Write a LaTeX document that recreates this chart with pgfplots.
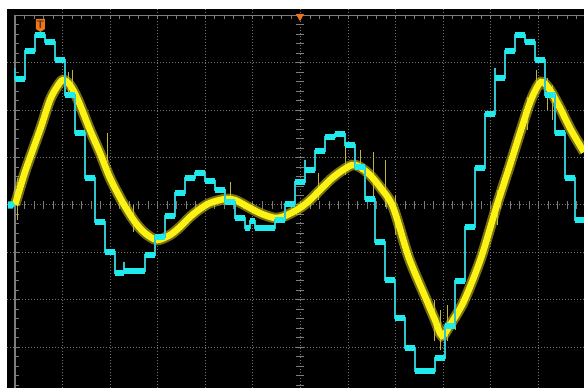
\documentclass[border=0pt]{standalone}
\usepackage{pgfplots}
\pgfplotsset{compat=1.18}
\usepackage{pgfplotstable}

\definecolor{scopeYellow}{RGB}{252,242,20}
\definecolor{scopeYellowDim}{RGB}{215,205,40}
\definecolor{scopeNoise}{RGB}{190,180,60}
\definecolor{scopeCyan}{RGB}{30,235,238}
\definecolor{scopeCyanDim}{RGB}{50,195,205}
\definecolor{scopeGrid}{RGB}{115,115,115}
\definecolor{scopeFrame}{RGB}{125,125,125}
\definecolor{scopeOrange}{RGB}{236,118,30}

% Channel 2: inverter staircase voltage, step start (div) and level (div)
\pgfplotstableread{
x y
0.000 2.89
0.000 2.658
0.210 3.249
0.420 3.586
0.630 3.439
0.840 3.059
1.050 2.321
1.261 1.519
1.471 0.570
1.681 -0.359
1.891 -0.992
2.101 -1.435
2.290 -1.20
2.290 -1.392
2.731 -1.055
2.941 -0.675
3.151 -0.232
3.361 0.253
3.571 0.570
3.782 0.675
3.992 0.506
4.202 0.316
4.412 0.063
4.622 -0.274
4.832 -0.485
4.937 -0.338
5.042 -0.485
5.462 -0.316
5.672 0.021
5.882 0.485
6.092 0.95
6.092 0.738
6.303 1.139
6.513 1.435
6.723 1.498
6.933 1.266
7.143 0.802
7.353 0.127
7.563 -0.781
7.773 -1.582
7.983 -2.384
8.193 -3.017
8.403 -3.502
8.824 -3.228
9.034 -2.553
9.244 -1.603
9.454 -0.464
9.664 0.781
9.874 1.920
10.084 2.89
10.084 2.679
10.294 3.249
10.504 3.586
10.714 3.439
10.924 3.059
11.134 2.321
11.345 1.519
11.555 0.570
11.765 -0.316
11.960 -0.316
}\stairs

% Channel 1: filtered output waveform (div)
\pgfplotstableread{
x y
0.000 0.000
0.210 0.696
0.525 1.582
0.735 2.215
0.882 2.489
1.008 2.637
1.155 2.532
1.324 2.215
1.576 1.582
1.786 1.097
1.996 0.570
2.269 0.042
2.521 -0.359
2.731 -0.591
2.983 -0.738
3.256 -0.633
3.466 -0.464
3.676 -0.253
3.887 -0.084
4.097 0.042
4.412 0.127
4.622 0.105
4.937 -0.063
5.189 -0.190
5.462 -0.274
5.672 -0.232
5.987 -0.063
6.197 0.105
6.408 0.316
6.618 0.527
6.828 0.696
7.080 0.844
7.248 0.802
7.458 0.633
7.668 0.380
7.941 -0.042
8.277 -1.118
8.655 -2.025
8.824 -2.426
8.971 -2.760
9.139 -2.532
9.433 -2.025
9.790 -1.118
10.126 0.000
10.378 0.781
10.630 1.582
10.840 2.215
11.050 2.595
11.239 2.426
11.450 2.046
11.681 1.582
11.954 1.118
}\wave

\begin{document}
\begin{tikzpicture}
\fill[white] (-7pt,0pt) rectangle (577pt,388pt);
\begin{axis}[
  at={(0pt,0pt)}, anchor=south west,
  scale only axis, width=577pt, height=379pt,
  xmin=-0.168, xmax=11.954, ymin=-3.861, ymax=4.135,
  axis background/.style={fill=black},
  axis line style={draw=none},
  xtick={1,...,11}, ytick={-3,...,3},
  xticklabels={}, yticklabels={},
  tick style={draw=none},
  grid=major,
  major grid style={draw=scopeGrid, line width=1pt, dash pattern=on 1pt off 2pt},
  unbounded coords=jump,
]
% screen frame and graticule subdivisions
\draw[scopeFrame, line width=1.3pt] (axis cs:0,-3.861) -- (axis cs:0,4.0) -- (axis cs:11.954,4.0);
\pgfplotsinvokeforeach{-3.8,-3.6,...,3.9}{
  \draw[scopeFrame, line width=1pt] (axis cs:0,#1) -- (axis cs:0.085,#1);
  \draw[scopeFrame, line width=1pt] (axis cs:5.90,#1) -- (axis cs:6.07,#1);
}
\pgfplotsinvokeforeach{0.2,0.4,...,11.9}{
  \draw[scopeFrame, line width=1pt] (axis cs:#1,4.0) -- (axis cs:#1,3.92);
  \draw[scopeFrame, line width=1pt] (axis cs:#1,-0.085) -- (axis cs:#1,0.085);
}

% channel 1: noise band, glitches and trace
\addplot[draw=scopeYellowDim, line width=10.5pt, opacity=0.55, smooth, tension=0.5] table {\wave};
\addplot[draw=scopeNoise, line width=0.9pt] coordinates {
  (0.042,0.570) (0.042,-0.316) (nan,nan)
  (1.113,2.806) (1.113,2.384) (nan,nan)
  (1.197,2.848) (1.197,2.321) (nan,nan)
  (1.933,1.519) (1.933,0.907) (nan,nan)
  (2.479,0.000) (2.479,-0.570) (nan,nan)
  (4.517,0.485) (4.517,0.105) (nan,nan)
  (6.366,0.675) (6.366,0.105) (nan,nan)
  (6.933,1.266) (6.933,0.633) (nan,nan)
  (7.248,1.160) (7.248,0.696) (nan,nan)
  (7.521,1.118) (7.521,0.169) (nan,nan)
  (7.773,0.949) (7.773,-0.042) (nan,nan)
  (7.983,0.211) (7.983,-0.633) (nan,nan)
  (8.803,-2.004) (8.803,-2.869) (nan,nan)
  (8.929,-2.215) (8.929,-3.059) (nan,nan)
  (9.076,-2.110) (9.076,-2.869) (nan,nan)
  (9.244,-1.793) (9.244,-2.637) (nan,nan)
  (10.126,0.316) (10.126,-0.422) (nan,nan)
  (10.756,2.278) (10.756,1.582) (nan,nan)
  (10.945,2.848) (10.945,2.321) (nan,nan)
  (11.176,2.679) (11.176,2.004) (nan,nan)
  (11.282,2.532) (11.282,1.793)
};
\addplot[draw=scopeYellow, line width=6.5pt, smooth, tension=0.5] table {\wave};

% channel 2
\addplot[draw=scopeCyanDim, line width=1.1pt, const plot mark left] table {\stairs};
\addplot[draw=scopeCyan, line width=6pt, jump mark left] table {\stairs};

% trigger position flag and trigger time marker
\fill[scopeOrange] (axis cs:0.441,3.924) -- (axis cs:0.630,3.924) -- (axis cs:0.630,3.713)
  -- (axis cs:0.535,3.650) -- (axis cs:0.441,3.713) -- cycle;
\node[text=black!55!scopeOrange, font=\fontsize{11}{11}\selectfont\sffamily\bfseries, inner sep=0pt]
  at (axis cs:0.535,3.81) {T};
\fill[scopeOrange] (axis cs:5.903,4.03) -- (axis cs:6.071,4.03) -- (axis cs:5.987,3.875) -- cycle;
% channel ground reference
\fill[scopeCyan] (axis cs:-0.15,0.075) -- (axis cs:-0.05,0.075) -- (axis cs:0.0,0)
  -- (axis cs:-0.05,-0.075) -- (axis cs:-0.15,-0.075) -- cycle;
\end{axis}
\pgfresetboundingbox
\path[use as bounding box] (-7pt,0pt) rectangle (577pt,388pt);
\end{tikzpicture}
\end{document}
